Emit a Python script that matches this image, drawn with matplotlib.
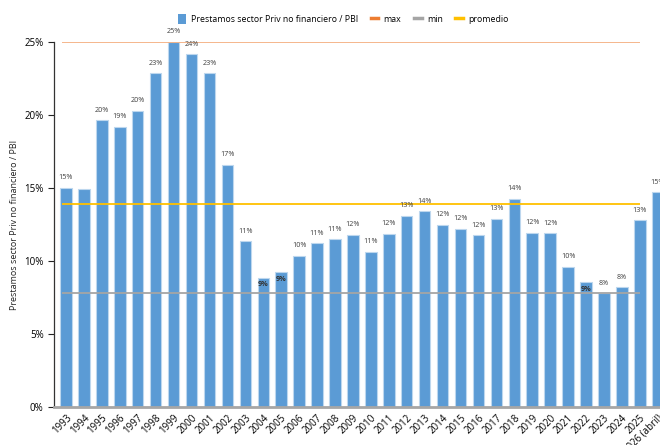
import numpy as np
import matplotlib
matplotlib.use("Agg")
import matplotlib.pyplot as plt
from matplotlib.lines import Line2D
from matplotlib.patches import Patch
from matplotlib.ticker import FuncFormatter

# data (% of GDP)
years = [str(y) for y in range(1993, 2026)] + ["2026 (abril)"]
ratio = [15.0, 14.9, 19.65, 19.2, 20.3, 22.85, 25.0, 24.15, 22.85, 16.6,
         11.35, 8.85, 9.25, 10.35, 11.2, 11.5, 11.8, 10.65, 11.85, 13.1,
         13.4, 12.5, 12.2, 11.75, 12.9, 14.25, 11.95, 11.9, 9.6, 8.55,
         7.8, 8.2, 12.8, 14.7]
labels = ["15%", "", "20%", "19%", "20%", "23%", "25%", "24%", "23%", "17%",
          "11%", "9%", "9%", "10%", "11%", "11%", "12%", "11%", "12%", "13%",
          "14%", "12%", "12%", "12%", "13%", "14%", "12%", "12%", "10%", "9%",
          "8%", "8%", "13%", "15%"]
inside = {"2004", "2005", "2022"}
max_val = 25.0
min_val = 7.8
avg_val = 13.9

plt.rcParams['font.family'] = ['Open Sans', 'DejaVu Sans']

fig = plt.figure(figsize=(6.6, 4.45), dpi=100)
ax = fig.add_axes([0.0818, 0.0854, 0.933, 0.8202])

x = np.arange(len(years))
ax.bar(x, ratio, width=0.64, color="#5B9BD5", edgecolor="#BDD7EE", linewidth=0.8, zorder=2)

x0, x1 = -0.25, len(years) - 2
ax.hlines(max_val, x0, x1, color="#F4B183", linewidth=1.3, zorder=3)
ax.hlines(min_val, x0, x1, color="#A5A5A5", linewidth=1.3, zorder=3)
ax.hlines(avg_val, x0, x1, color="#FFC000", linewidth=1.3, zorder=3)

for xi, yr, v, lab in zip(x, years, ratio, labels):
    if not lab:
        continue
    if yr in inside:
        ax.text(xi, v - 0.25, lab, ha="center", va="top", fontsize=5.2,
                color="#333333", fontweight="bold", zorder=4)
    else:
        ax.text(xi, v + 0.45, lab, ha="center", va="bottom", fontsize=5.2,
                color="#404040", zorder=4)

ax.set_xlim(-0.67, len(years) - 1 + 0.67)
ax.set_ylim(0, 25)
ax.set_yticks([0, 5, 10, 15, 20, 25])
ax.yaxis.set_major_formatter(FuncFormatter(lambda v, p: f"{v:.0f}%"))
ax.set_xticks(x)
ax.set_xticklabels(years, rotation=45, ha="right", rotation_mode="anchor", fontsize=7)
ax.tick_params(axis="x", direction="in", length=4, width=0.8, color="#222222", pad=4)
ax.tick_params(axis="y", direction="out", length=4, width=0.8, labelsize=7, color="#222222")

ax.set_ylabel("Prestamos sector Priv no financiero / PBI", fontsize=6.5, color="#222222")

for s in ["top", "right"]:
    ax.spines[s].set_visible(False)
ax.spines["left"].set_color("#333333")
ax.spines["left"].set_linewidth(0.9)
ax.spines["bottom"].set_color("#A6A6A6")
ax.spines["bottom"].set_linewidth(2)

handles = [Patch(facecolor="#5B9BD5"),
           Line2D([], [], color="#ED7D31", linewidth=2.5),
           Line2D([], [], color="#A5A5A5", linewidth=2.5),
           Line2D([], [], color="#FFC000", linewidth=2.5)]
names = ["Prestamos sector Priv no financiero / PBI", "max", "min", "promedio"]
fig.legend(handles, names, loc="center", bbox_to_anchor=(0.52, 0.957), ncol=4,
           frameon=False, fontsize=6.3, handlelength=0.9, handleheight=1.4,
           columnspacing=1.4, handletextpad=0.6)

fig.savefig("out.png", dpi=100)
